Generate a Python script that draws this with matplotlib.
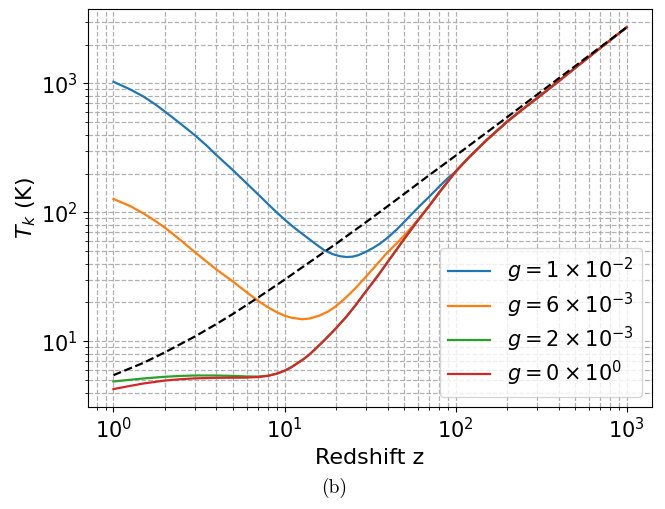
import numpy as np
import matplotlib
matplotlib.use('Agg')
from matplotlib import pyplot as plt

# values (redshift z, kinetic temperature in K)
z_cmb = [1, 1.5, 2, 3, 4, 5, 7, 10, 14, 20, 30, 45, 70, 100, 150, 220, 330, 500, 700, 1000]
t_cmb = [5.45, 6.8, 8.2, 10.9, 13.6, 16.3, 21.8, 30, 41, 57, 84, 125, 194, 275, 411, 602, 902,
         1365, 1910, 2728]

z_g0 = [1, 1.25, 1.5, 2, 2.5, 3, 4, 5, 6, 7, 8, 9, 10, 11, 12, 13, 14, 15, 17, 20, 23, 26, 30,
        35, 40, 45, 50, 60, 70, 80, 90, 100, 120, 150, 200, 250, 300, 400, 500, 700, 1000]
t_g0 = [4.25, 4.5, 4.7, 4.95, 5.08, 5.15, 5.2, 5.21, 5.22, 5.27, 5.38, 5.6, 5.9, 6.3, 6.8, 7.3,
        7.9, 8.6, 10.1, 12.6, 15.5, 19, 24.5, 32, 41, 51, 62, 86, 112, 142, 173, 207, 268, 358,
        505, 640, 770, 1040, 1320, 1880, 2728]

z_g2 = [1, 1.25, 1.5, 2, 2.5, 3, 4, 5, 6, 7, 8, 9] + z_g0[12:]
t_g2 = [4.87, 5.02, 5.14, 5.3, 5.38, 5.42, 5.42, 5.38, 5.33, 5.32, 5.4, 5.6] + t_g0[12:]

z_g6 = [1, 1.25, 1.5, 1.75, 2, 2.5, 3, 3.5, 4, 5, 6, 7, 8, 9, 10, 11, 12.7, 14, 16, 18, 20, 23,
        26, 30, 35, 40, 45, 50, 55, 60] + z_g0[28:]
t_g6 = [127, 112, 98, 86, 76, 60, 49, 41.5, 36, 29, 24, 20.6, 18.3, 16.8, 15.8, 15.2, 14.8, 15,
        15.8, 17, 18.7, 22, 25.8, 31.8, 40, 49, 57, 66, 76, 87] + t_g0[28:]

z_g10 = [1, 1.25, 1.5, 1.75, 2, 2.5, 3, 3.5, 4, 5, 6, 7, 8, 9, 10, 11, 12, 13.5, 15, 17, 19,
         21, 23, 25, 27, 30, 33, 36, 40, 45, 50, 55, 60, 70, 80, 90] + z_g0[31:]
t_g10 = [1030, 900, 790, 690, 605, 480, 395, 330, 278, 212, 168, 138, 116, 100, 88, 79, 72, 64,
         57.5, 51, 47.5, 45.7, 45, 45.3, 46.5, 49.5, 53, 57, 63.5, 73, 84, 96, 108, 132, 158,
         184] + t_g0[31:]

labels = [r'$g = 1\times10^{-2}$', r'$g = 6\times10^{-3}$',
          r'$g = 2\times10^{-3}$', r'$g = 0\times10^{0}$']
colors = ['#1f77b4', '#ff7f0e', '#2ca02c', '#d62728']

fig = plt.figure(figsize=(6.65, 5.09), dpi=100)
ax = fig.add_axes([0.132, 0.200, 0.849, 0.782])

curves = [(z_g10, t_g10), (z_g6, t_g6), (z_g2, t_g2), (z_g0, t_g0)]
for (zz, tt), lab, col in zip(curves, labels, colors):
    ax.plot(zz, tt, color=col, lw=1.6, label=lab)
ax.plot(z_cmb, t_cmb, 'k--', lw=1.6)

ax.set_xscale('log')
ax.set_yscale('log')
ax.grid(True, which='both', ls='--', color='#b0b0b0', lw=0.9)
ax.tick_params(labelsize=15)
ax.set_xlabel('Redshift z', fontsize=16)
ax.set_ylabel(r'$T_k$ (K)', fontsize=16, labelpad=2)
ax.legend(loc='lower right', fontsize=15, labelspacing=0.25)

fig.text(0.503, 0.042, '(b)', fontsize=14, family='cmr10', ha='center', va='center')

fig.savefig('out.png', dpi=100)
